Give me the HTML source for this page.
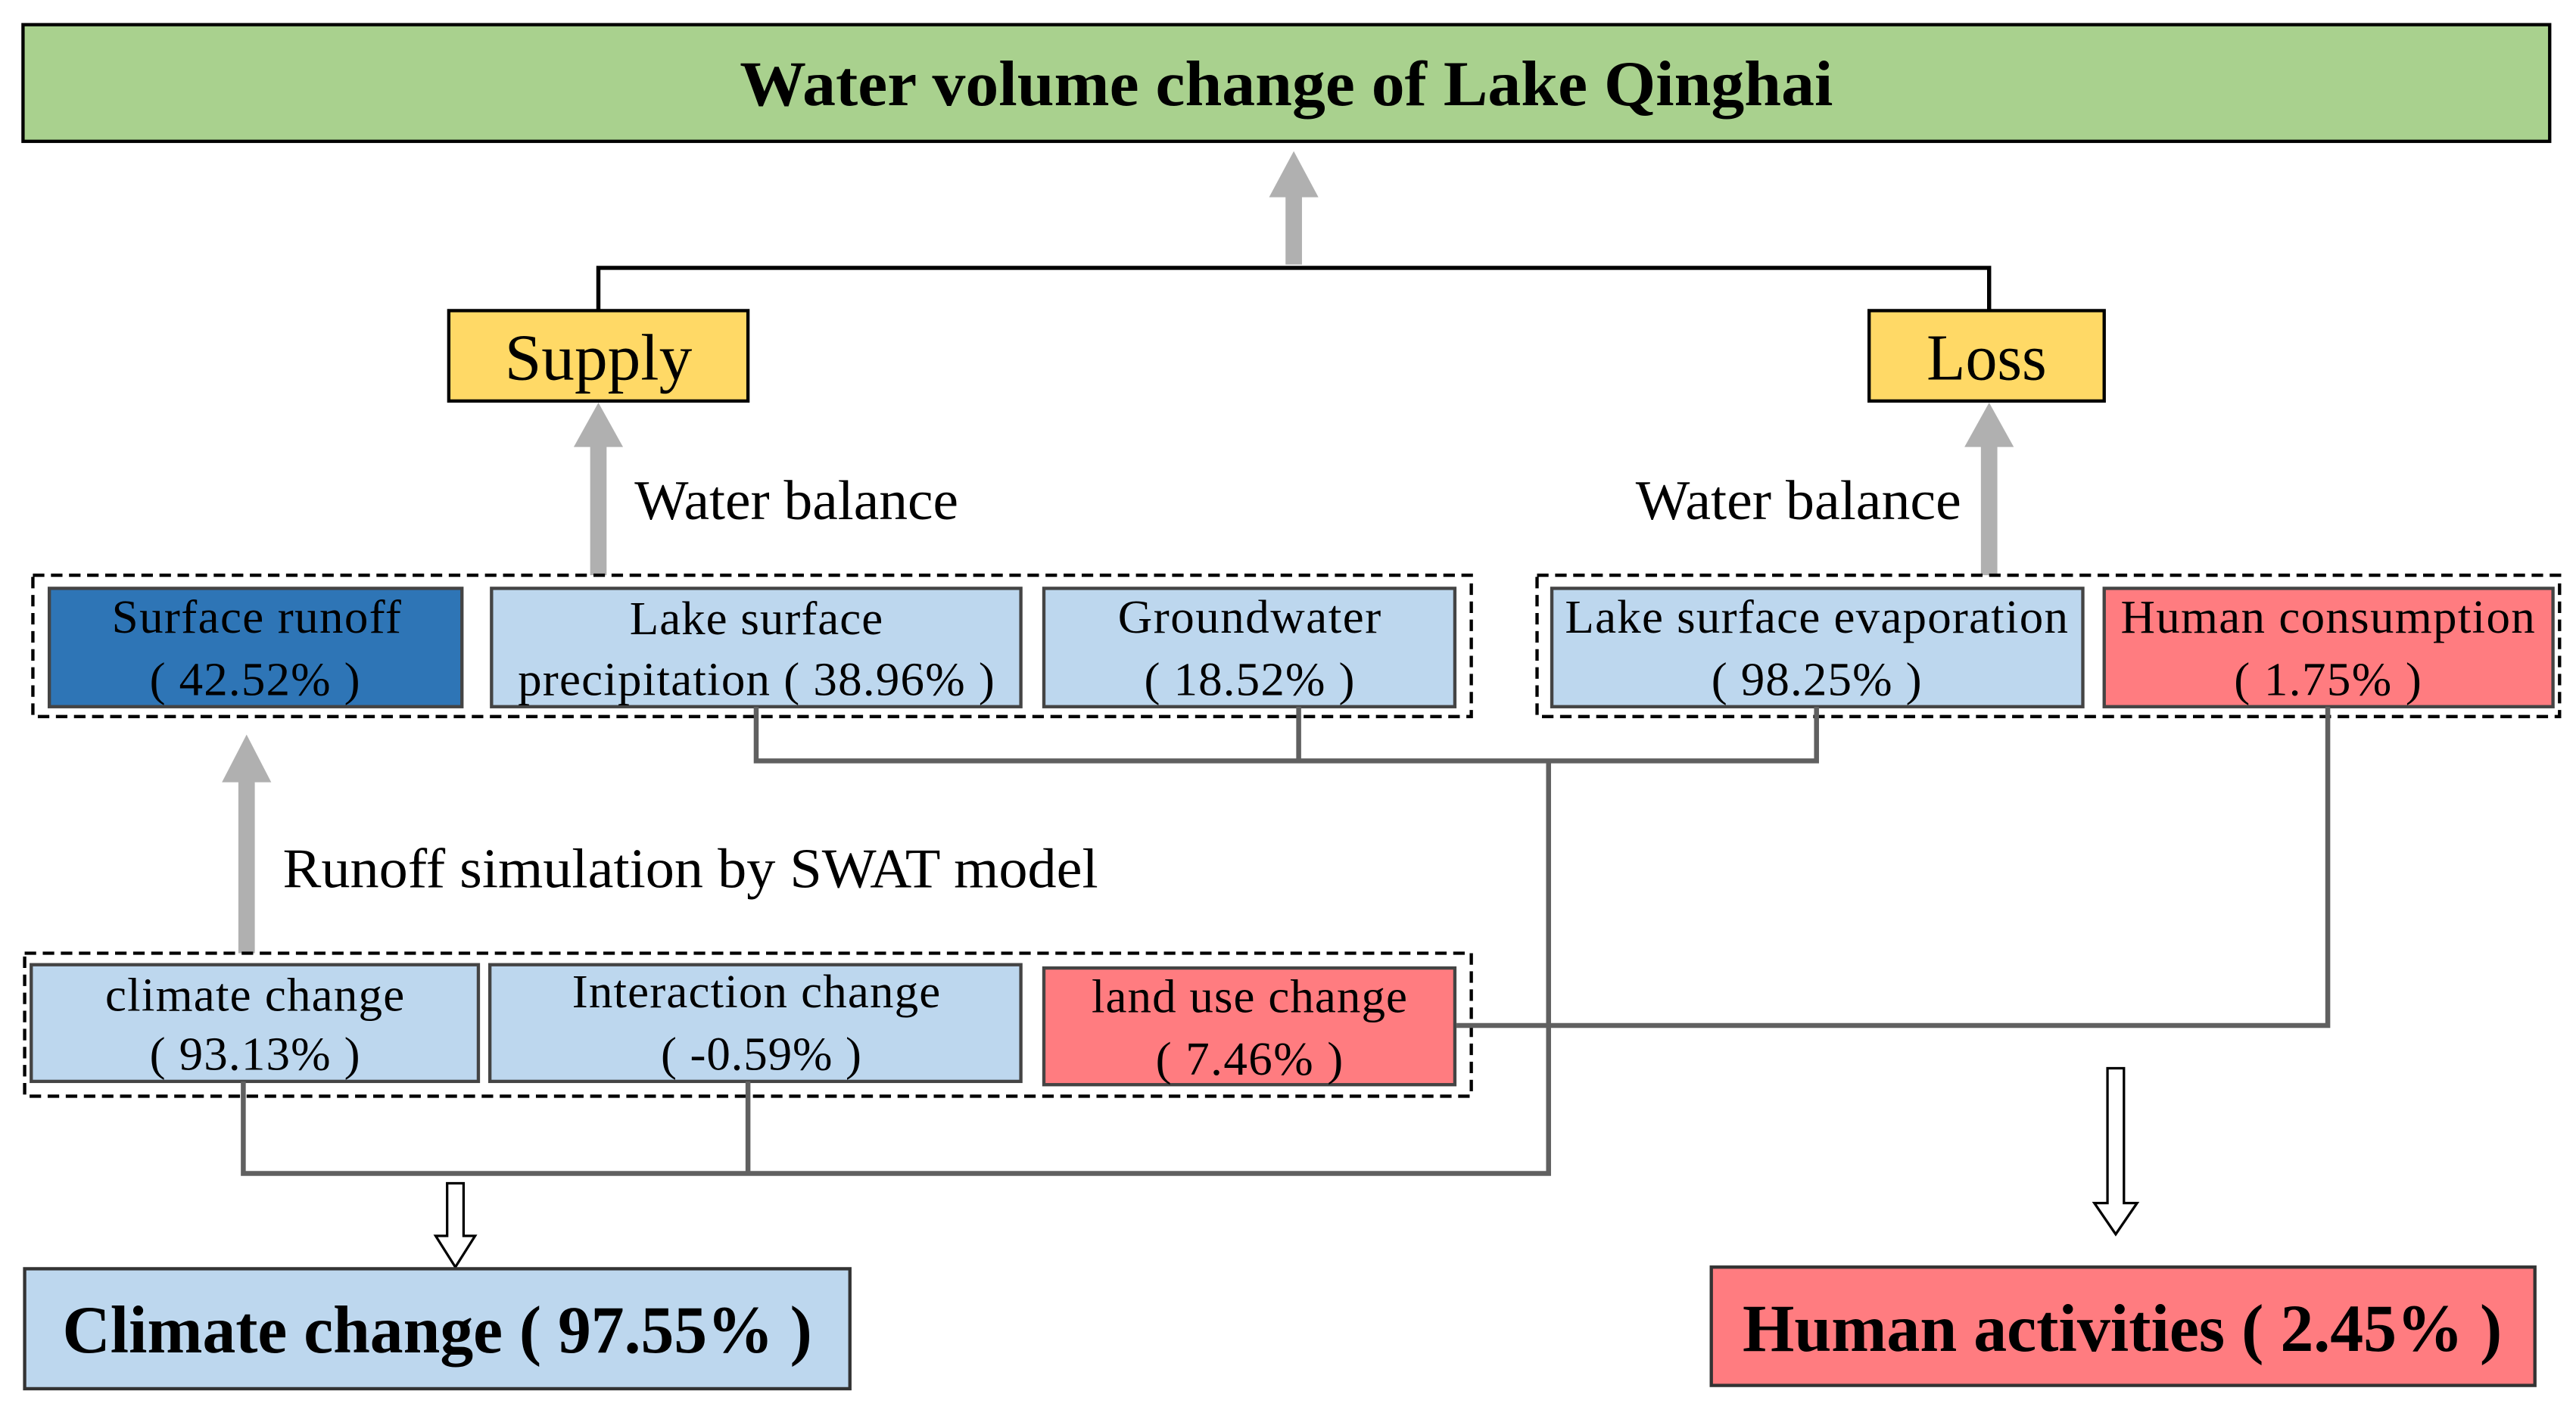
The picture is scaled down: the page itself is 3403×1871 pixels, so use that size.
<!DOCTYPE html>
<html><head><style>html,body{margin:0;padding:0;background:#fff}svg{display:block}</style></head><body>
<svg width="3403" height="1871" viewBox="0 0 1567 861.6" preserveAspectRatio="none" xmlns="http://www.w3.org/2000/svg" font-family="Liberation Serif, serif">
<rect x="14" y="15" width="1537" height="71" fill="#a9d18e" stroke="#000" stroke-width="2"/>
<text x="450" y="64" font-size="39" font-weight="bold" textLength="665" lengthAdjust="spacingAndGlyphs">Water volume change of Lake Qinghai</text>
<g fill="#b0b0b0">
<rect x="782" y="118" width="10" height="43"/><polygon points="772,120 802,120 787,92"/>
<rect x="359" y="270" width="10" height="80"/><polygon points="349,272 379,272 364,245"/>
<rect x="1205" y="270" width="10" height="80"/><polygon points="1195,272 1225,272 1210,245"/>
<rect x="145" y="474" width="10" height="106"/><polygon points="135,476 165,476 150,447"/>
</g>
<polyline points="364,189 364,163 1210,163 1210,189" fill="none" stroke="#000" stroke-width="2.5"/>
<rect x="273" y="189" width="182" height="55" fill="#ffd966" stroke="#000" stroke-width="2"/>
<text x="307" y="231" font-size="40" textLength="114" lengthAdjust="spacingAndGlyphs">Supply</text>
<rect x="1137" y="189" width="143" height="55" fill="#ffd966" stroke="#000" stroke-width="2"/>
<text x="1172" y="231" font-size="40" textLength="73" lengthAdjust="spacingAndGlyphs">Loss</text>
<text x="386" y="316" font-size="34" textLength="197" lengthAdjust="spacingAndGlyphs">Water balance</text>
<text x="995" y="316" font-size="34" textLength="198" lengthAdjust="spacingAndGlyphs">Water balance</text>
<text x="172" y="540" font-size="34" textLength="496" lengthAdjust="spacingAndGlyphs">Runoff simulation by SWAT model</text>
<g fill="none" stroke="#000" stroke-width="2" stroke-dasharray="7,4">
<rect x="20" y="350" width="875" height="86"/>
<rect x="935" y="350" width="622" height="86"/>
<rect x="15" y="580" width="880" height="87"/>
</g>
<g stroke="#444" stroke-width="2">
<rect x="30" y="358" width="251" height="72" fill="#2e75b6"/>
<rect x="299" y="358" width="322" height="72" fill="#bdd7ee"/>
<rect x="635" y="358" width="250" height="72" fill="#bdd7ee"/>
<rect x="944" y="358" width="323" height="72" fill="#bdd7ee"/>
<rect x="1280" y="358" width="273" height="72" fill="#ff7c80"/>
<rect x="19" y="587" width="272" height="71" fill="#bdd7ee"/>
<rect x="298" y="587" width="323" height="71" fill="#bdd7ee"/>
<rect x="635" y="589" width="250" height="71" fill="#ff7c80"/>
</g>
<g font-size="29" text-anchor="middle" lengthAdjust="spacingAndGlyphs">
<text x="156" y="385" textLength="176">Surface runoff</text><text x="155" y="423" textLength="128">( 42.52% )</text>
<text x="460" y="386" textLength="154">Lake surface</text><text x="460" y="423" textLength="290">precipitation ( 38.96% )</text>
<text x="760" y="385" textLength="160">Groundwater</text><text x="760" y="423" textLength="128">( 18.52% )</text>
<text x="1105" y="385" textLength="306">Lake surface evaporation</text><text x="1105" y="423" textLength="128">( 98.25% )</text>
<text x="1416" y="385" textLength="252">Human consumption</text><text x="1416" y="423" textLength="114">( 1.75% )</text>
<text x="155" y="615" textLength="182">climate change</text><text x="155" y="651" textLength="128">( 93.13% )</text>
<text x="460" y="613" textLength="224">Interaction change</text><text x="463" y="651" textLength="122">( -0.59% )</text>
<text x="760" y="616" textLength="192">land use change</text><text x="760" y="654" textLength="114">( 7.46% )</text>
</g>
<g fill="none" stroke="#606060" stroke-width="3">
<polyline points="460,430 460,463 1105,463 1105,430"/>
<line x1="790" y1="430" x2="790" y2="463"/>
<polyline points="942,463 942,714 148,714 148,658"/>
<line x1="455" y1="658" x2="455" y2="714"/>
<polyline points="886,624 1416,624 1416,430"/>
</g>
<polygon points="272,720 282,720 282,752 289,752 277,771 265,752 272,752" fill="#fff" stroke="#000" stroke-width="1.5"/>
<polygon points="1282,650 1292,650 1292,732 1300,732 1287,751 1274,732 1282,732" fill="#fff" stroke="#000" stroke-width="1.5"/>
<rect x="15" y="772" width="502" height="73" fill="#bdd7ee" stroke="#333" stroke-width="2"/>
<text x="38" y="823" font-size="41" font-weight="bold" textLength="456" lengthAdjust="spacingAndGlyphs">Climate change ( 97.55% )</text>
<rect x="1041" y="771" width="501" height="72" fill="#ff7c80" stroke="#333" stroke-width="2"/>
<text x="1060" y="822" font-size="41" font-weight="bold" textLength="462" lengthAdjust="spacingAndGlyphs">Human activities ( 2.45% )</text>
</svg>
</body></html>
